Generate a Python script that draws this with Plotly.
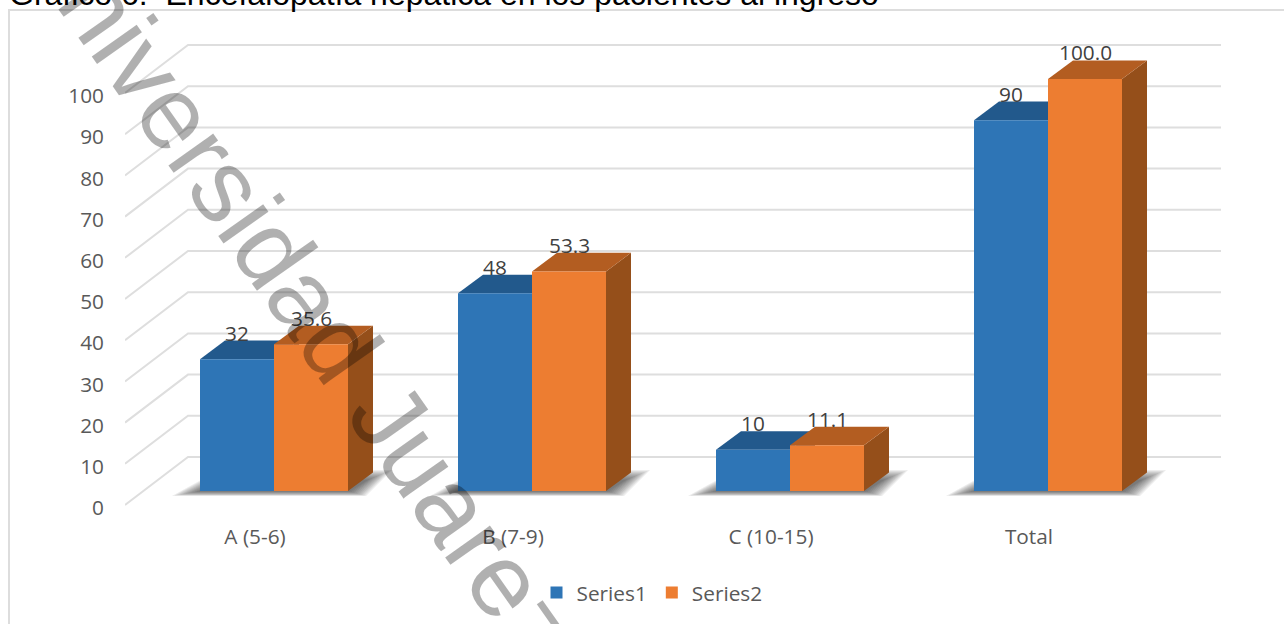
import plotly.graph_objects as go

# Chart values
categories = ["A (5-6)", "B (7-9)", "C (10-15)", "Total"]
series1 = [32, 48, 10, 90]
series2 = [35.6, 53.3, 11.1, 100.0]
series_names = ["Series1", "Series2"]
axis_ticks = [0, 10, 20, 30, 40, 50, 60, 70, 80, 90, 100]
title_text = "Gráfico 6:  Encefalopatía hepática en los pacientes al ingreso"
watermark_text = "Universidad Juarez"

W, H = 1284, 624
positions = list(range(len(categories)))

# Pixel geometry of the oblique projection
GROUP_PITCH = 258.0
GROUP_CENTRE_0 = 274.0
BAR_W = 74.0
PX_PER_UNIT = 4.12
FLOOR_Y = 491.0
WALL_FRONT_Y = 505.0
LEFT, WALL_BACK, RIGHT = 125.0, 188.0, 1221.0
WALL_BACK_Y = 457.0
DEPTH_X, DEPTH_Y = 25.0, 18.6
TOP, BOTTOM = 10.0, 522.0
LABEL_SHIFT = 19.0
TEXT_SIZE = 20.8

def xdata(px):
    return (px - GROUP_CENTRE_0) / GROUP_PITCH

def ybar(py):
    return (FLOOR_Y - py) / PX_PER_UNIT

def ywall(py):
    return (WALL_FRONT_Y - py) / PX_PER_UNIT

BLUE, BLUE_TOP, BLUE_SIDE = "#2E75B6", "#22598C", "#1F4E79"
ORANGE, ORANGE_TOP, ORANGE_SIDE = "#ED7D31", "#B35D21", "#954F1A"

fig = go.Figure()

# Side wall and back wall gridlines
wx, wy = [], []
for v in axis_ticks:
    wx += [xdata(LEFT), xdata(WALL_BACK), xdata(RIGHT), None]
    back = ywall(WALL_BACK_Y) + v
    wy += [v, back, back, None]
fig.add_trace(go.Scatter(x=wx, y=wy, mode="lines", yaxis="y", showlegend=False, hoverinfo="skip",
                         line=dict(color="#DEDEDE", width=2)))

# Soft floor shadows under each group of bars, built from nested translucent layers
for i in positions:
    left = GROUP_CENTRE_0 + i * GROUP_PITCH - BAR_W
    right = left + 2 * BAR_W
    for k in range(11):
        xs = [left - 2 - k * 2.6, right + 2 + k * 1.6, right + 20 + k * 2.4, left + 24 - k * 0.5, left - 2 - k * 2.6]
        bottom = FLOOR_Y + 0.5 + k * 0.45
        upper = FLOOR_Y - 11.0 - k * 1.0
        ys = [bottom, bottom, upper, upper, bottom]
        fig.add_trace(go.Scatter(x=[xdata(p) for p in xs], y=[ybar(p) for p in ys], yaxis="y2",
                                 mode="lines", fill="toself", fillcolor="rgba(60,60,60,0.09)",
                                 line=dict(width=0), showlegend=False, hoverinfo="skip"))

# Top and side faces of the boxes, derived from the bar values
def box_faces(values, slot, top_color, side_color):
    for i, v in enumerate(values):
        x0 = GROUP_CENTRE_0 + i * GROUP_PITCH + (slot - 1) * BAR_W
        x1 = x0 + BAR_W
        dx, dy = DEPTH_X / GROUP_PITCH, DEPTH_Y / PX_PER_UNIT
        a, b = xdata(x0), xdata(x1)
        fig.add_trace(go.Scatter(x=[b, b + dx, b + dx, b, b], y=[0, dy, v + dy, v, 0], yaxis="y2",
                                 mode="lines", fill="toself", fillcolor=side_color,
                                 line=dict(width=0), showlegend=False, hoverinfo="skip"))
        fig.add_trace(go.Scatter(x=[a, b, b + dx, a + dx, a], y=[v, v, v + dy, v + dy, v], yaxis="y2",
                                 mode="lines", fill="toself", fillcolor=top_color,
                                 line=dict(width=0), showlegend=False, hoverinfo="skip"))

box_faces(series1, 0, BLUE_TOP, BLUE_SIDE)
box_faces(series2, 1, ORANGE_TOP, ORANGE_SIDE)

# Front faces
fig.add_trace(go.Bar(x=positions, y=series1, name=series_names[0], yaxis="y3",
                     marker=dict(color=BLUE, line=dict(width=0)), hoverinfo="skip"))
fig.add_trace(go.Bar(x=positions, y=series2, name=series_names[1], yaxis="y3",
                     marker=dict(color=ORANGE, line=dict(width=0)), hoverinfo="skip"))

annotations = []
for i in positions:
    for slot, vals, fmt in ((0, series1, "{:.0f}"), (1, series2, "{:.1f}")):
        annotations.append(dict(x=xdata(GROUP_CENTRE_0 + i * GROUP_PITCH + (slot - 0.5) * BAR_W), y=vals[i],
                                xref="x", yref="y3", text=fmt.format(vals[i]), showarrow=False, yshift=26.5,
                                font=dict(family="Open Sans", size=TEXT_SIZE, color="#404040")))
annotations.append(dict(x=8 / W, y=1 - 13 / H, xref="paper", yref="paper", xanchor="left", yanchor="bottom",
                        text=title_text, showarrow=False, align="left", borderpad=0,
                        font=dict(family="Liberation Sans", size=32, color="#000000")))
annotations.append(dict(x=297 / W, y=1 - 285 / H, xref="paper", yref="paper", text=watermark_text,
                        xanchor="center", yanchor="middle",
                        showarrow=False, textangle=54.8,
                        font=dict(family="Liberation Sans", size=104, color="rgba(0,0,0,0.31)")))

frame = dict(type="path", xref="paper", yref="paper",
             path=f"M {9/W} 0 L {9/W} {1-10/H} L 1 {1-10/H}", line=dict(color="#DDDDDD", width=2))

y_domain = [1 - BOTTOM / H, 1 - TOP / H]
wall_range = [ywall(BOTTOM), ywall(TOP)]
bar_range = [ybar(BOTTOM), ybar(TOP)]
hidden = dict(domain=y_domain, overlaying="y", showticklabels=False, showgrid=False, zeroline=False,
              showline=False, ticks="", fixedrange=True)

fig.update_layout(
    width=W, height=H, margin=dict(l=0, r=0, t=0, b=0), paper_bgcolor="white", plot_bgcolor="rgba(0,0,0,0)",
    barmode="group", bargap=1 - 2 * BAR_W / GROUP_PITCH, bargroupgap=0,
    font=dict(family="Open Sans", size=TEXT_SIZE, color="#595959"),
    xaxis=dict(domain=[LEFT / W, RIGHT / W], range=[xdata(LEFT), xdata(RIGHT)],
               tickmode="array", tickvals=[p - LABEL_SHIFT / GROUP_PITCH for p in positions], ticktext=categories,
               showgrid=False, zeroline=False, showline=False, ticks="", fixedrange=True),
    yaxis=dict(domain=y_domain, range=wall_range, tickmode="array", tickvals=axis_ticks,
               showgrid=False, zeroline=False, showline=False, ticks="", ticklabelstandoff=20,
               ticklabelshift=3, fixedrange=True),
    yaxis2=dict(range=bar_range, **hidden),
    yaxis3=dict(range=bar_range, **hidden),
    legend=dict(orientation="h", x=652 / W, xanchor="center", y=1 - 593 / H, yanchor="middle",
                font=dict(size=TEXT_SIZE, color="#595959"), bgcolor="rgba(0,0,0,0)"),
    annotations=annotations,
    shapes=[frame],
)

fig.write_html("out.html")
